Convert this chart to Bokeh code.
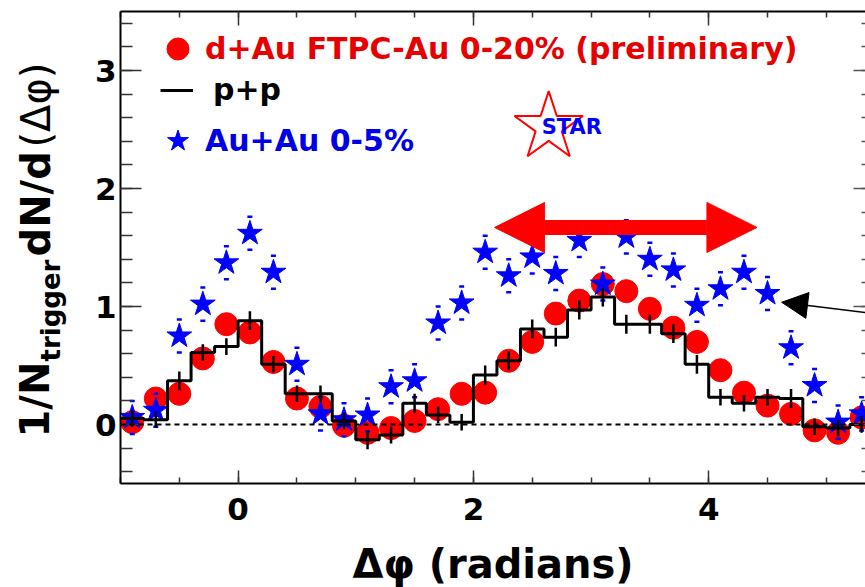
from bokeh.plotting import figure
from bokeh.layouts import row
from bokeh.models import (Range1d, LinearAxis, SingleIntervalTicker, Span, Label,
                          Legend, LegendItem, Arrow, NormalHead, ColumnDataSource)
from bokeh.embed import file_html
from bokeh.resources import INLINE
import numpy as np

# ---------------- data ----------------
dphi = [-0.9, -0.7, -0.5, -0.3, -0.1, 0.1, 0.3, 0.5, 0.7, 0.9, 1.1, 1.3, 1.5, 1.7, 1.9, 2.1,
        2.3, 2.5, 2.7, 2.9, 3.1, 3.3, 3.5, 3.7, 3.9, 4.1, 4.3, 4.5, 4.7, 4.9, 5.1, 5.3]

dau_ftpc = [0.02, 0.22, 0.26, 0.56, 0.85, 0.78, 0.53, 0.22, 0.15, -0.01, -0.07, -0.03,
            0.03, 0.13, 0.26, 0.27, 0.54, 0.70, 0.94, 1.05, 1.19, 1.13, 0.98, 0.82,
            0.70, 0.46, 0.27, 0.16, 0.09, -0.05, -0.07, 0.06]

pp = [0.05, 0.04, 0.37, 0.61, 0.66, 0.88, 0.51, 0.26, 0.26, 0.03, -0.13, -0.09,
      0.18, 0.08, 0.02, 0.42, 0.54, 0.81, 0.74, 0.97, 1.08, 0.85, 0.85, 0.77,
      0.51, 0.23, 0.18, 0.23, 0.22, -0.02, -0.03, 0.00]
pp_err = [0.07, 0.07, 0.08, 0.07, 0.07, 0.08, 0.07, 0.07, 0.07, 0.07, 0.08, 0.07,
          0.08, 0.07, 0.07, 0.08, 0.08, 0.08, 0.08, 0.08, 0.08, 0.08, 0.08, 0.08,
          0.08, 0.07, 0.07, 0.07, 0.08, 0.07, 0.07, 0.07]

auau = [0.06, 0.12, 0.75, 1.02, 1.37, 1.62, 1.29, 0.51, 0.09, 0.04, 0.08, 0.32,
        0.37, 0.86, 1.03, 1.46, 1.26, 1.42, 1.28, 1.56, 1.19, 1.59, 1.40, 1.31,
        1.01, 1.15, 1.29, 1.11, 0.65, 0.33, 0.02, 0.09]
auau_err = [0.14, 0.14, 0.14, 0.14, 0.14, 0.14, 0.14, 0.14, 0.14, 0.14, 0.14, 0.14,
            0.14, 0.14, 0.14, 0.14, 0.14, 0.14, 0.14, 0.14, 0.14, 0.14, 0.14, 0.14,
            0.14, 0.14, 0.14, 0.14, 0.14, 0.14, 0.14, 0.14]

legend_labels = ["d+Au FTPC-Au 0-20% (preliminary)", "p+p", "Au+Au 0-5%"]
x_title = "\u0394\u03c6 (radians)"
y_title_parts = ["1/N", "trigger", "dN/d", "(\u0394\u03c6)"]

# ---------------- derived columns ----------------
x = np.array(dphi)
half = np.diff(x).mean() / 2.0
src = ColumnDataSource(dict(
    x=x, dau=dau_ftpc, pp=pp,
    pp_lo=np.array(pp) - np.array(pp_err), pp_hi=np.array(pp) + np.array(pp_err),
    au=auau,
    au_lo=np.array(auau) - np.array(auau_err), au_hi=np.array(auau) + np.array(auau_err),
))
edges = list(x - half) + [x[-1] + half]
step_y = list(pp) + [pp[-1]]

FONT = "DejaVu Sans"
LEFT_W = 75
TOP_B, FRAME_H, BOT_B = 11, 472, 104

p = figure(frame_width=745, frame_height=FRAME_H,
           x_range=Range1d(-1.0, 5.333), y_range=Range1d(-0.5, 3.5),
           output_backend="svg", toolbar_location=None,
           min_border_left=120 - LEFT_W, min_border_right=0, min_border_top=TOP_B,
           min_border_bottom=BOT_B)
p.xgrid.visible = False
p.ygrid.visible = False
p.outline_line_color = None
p.background_fill_color = "white"
p.border_fill_color = "white"

# bottom axis
xa = p.xaxis[0]
xa.ticker = SingleIntervalTicker(interval=2, num_minor_ticks=4)
xa.major_tick_in = 13
xa.major_tick_out = 0
xa.minor_tick_in = 6
xa.minor_tick_out = 0
xa.axis_line_width = 2
xa.major_tick_line_width = 1.5
xa.minor_tick_line_width = 1.5
xa.major_tick_line_color = "#333333"
xa.minor_tick_line_color = "#333333"
xa.major_label_text_font = FONT
xa.major_label_text_font_size = "31px"
xa.major_label_text_font_style = "bold"
xa.major_label_text_color = "black"
xa.major_label_text_line_height = 0.8
xa.major_label_standoff = 14
xa.axis_label = x_title
xa.axis_label_text_font = FONT
xa.axis_label_text_font_size = "40px"
xa.axis_label_text_font_style = "bold"
xa.axis_label_text_color = "black"
xa.axis_label_text_line_height = 0.8
xa.axis_label_standoff = 18

# left axis
ya = p.yaxis[0]
ya.ticker = SingleIntervalTicker(interval=1, num_minor_ticks=5)
ya.major_tick_in = 21
ya.major_tick_out = 0
ya.minor_tick_in = 12
ya.minor_tick_out = 0
ya.axis_line_width = 2
ya.major_tick_line_width = 1.5
ya.minor_tick_line_width = 1.5
ya.major_tick_line_color = "#333333"
ya.minor_tick_line_color = "#333333"
ya.major_label_text_font = FONT
ya.major_label_text_font_size = "31px"
ya.major_label_text_font_style = "bold"
ya.major_label_text_color = "black"
ya.major_label_standoff = 4

# top axis (frame line + ticks only, no labels)
top = LinearAxis(ticker=SingleIntervalTicker(interval=2, num_minor_ticks=4),
                 major_tick_in=14, major_tick_out=0, minor_tick_in=6, minor_tick_out=0,
                 axis_line_width=2, major_tick_line_width=1.5, minor_tick_line_width=1.5,
                 major_tick_line_color="#333333", minor_tick_line_color="#333333",
                 major_label_text_font_size="0px", major_label_text_color=None,
                 major_label_standoff=0)
p.add_layout(top, "above")

# right edge ticks (no labels)
right = LinearAxis(ticker=SingleIntervalTicker(interval=1, num_minor_ticks=5),
                   axis_line_color=None, major_tick_in=12, major_tick_out=0,
                   minor_tick_in=4, minor_tick_out=0,
                   major_tick_line_width=1.5, minor_tick_line_width=1.5,
                   major_tick_line_color="#555555", minor_tick_line_color="#555555",
                   major_label_text_font_size="0px", major_label_text_color=None,
                   major_label_standoff=0)
p.add_layout(right, "right")

# zero line
p.add_layout(Span(location=0, dimension="width", line_color="black",
                  line_width=2, line_dash="5 4"))

# data
r_red = p.scatter("x", "dau", source=src, marker="circle", size=23,
                  fill_color="#ff0000", line_color="#ff0000")
r_blue = p.scatter("x", "au", source=src, marker="star", size=26,
                   fill_color="#0000ff", line_color="#0000ff")
p.scatter("x", "au_hi", source=src, marker="dash", size=5, line_color="#0000ff", line_width=2.5)
p.scatter("x", "au_lo", source=src, marker="dash", size=5, line_color="#0000ff", line_width=2.5)
r_pp = p.step(edges, step_y, mode="after", line_color="black", line_width=3)
p.segment(x0="x", y0="pp_lo", x1="x", y1="pp_hi", source=src, line_color="black", line_width=2.5)

# legends
def mk_legend(label, rend, loc, gw, gh, standoff, color):
    return Legend(items=[LegendItem(label=label, renderers=[rend])], location=loc,
                  glyph_width=gw, glyph_height=gh, label_standoff=standoff,
                  padding=0, margin=0, spacing=0, border_line_color=None,
                  background_fill_alpha=0, label_text_font=FONT,
                  label_text_font_size="30px", label_text_font_style="bold",
                  label_text_color=color)

p.add_layout(mk_legend(legend_labels[0], r_red, (30, 407), 55, 55, 0, "#e60000"))
p.add_layout(mk_legend(legend_labels[1], r_pp, (40, 376), 33, 30, 20, "black"))
p.add_layout(mk_legend(legend_labels[2], r_blue, (30, 315), 55, 55, 0, "#0000e6"))

# STAR logo
p.scatter([2.64], [2.52], marker="star", size=72, fill_color=None,
          line_color="#ff0000", line_width=2)
p.add_layout(Label(x=2.58, y=2.52, text="STAR", text_font=FONT, text_font_style="bold",
                   text_font_size="21px", text_color="#0000ff", text_baseline="middle",
                   text_align="left"))

# arrows
p.add_layout(Arrow(x_start=2.18, y_start=1.67, x_end=4.41, y_end=1.67,
                   line_color="#ff0000", line_width=15,
                   start=NormalHead(size=50, fill_color="#ff0000", line_color="#ff0000"),
                   end=NormalHead(size=50, fill_color="#ff0000", line_color="#ff0000")))
p.add_layout(Arrow(x_start=5.4, y_start=0.94, x_end=4.62, y_end=1.036,
                   line_color="black", line_width=1.5,
                   end=NormalHead(size=26, fill_color="black", line_color="black")))

# ---------------- y-axis title panel (rotated text with subscript) ----------------
# its frame is aligned with the main frame; ranges map 1:1 to page pixels
q = figure(frame_width=LEFT_W, frame_height=FRAME_H,
           x_range=Range1d(0, LEFT_W), y_range=Range1d(TOP_B + FRAME_H, TOP_B),
           output_backend="svg", toolbar_location=None, x_axis_type=None, y_axis_type=None,
           min_border_left=0, min_border_right=0, min_border_top=TOP_B,
           min_border_bottom=BOT_B)
q.xgrid.visible = False
q.ygrid.visible = False
q.outline_line_color = None
q.background_fill_color = "white"
q.border_fill_color = "white"

def ylab(text, xs, ys, size, style):
    q.add_layout(Label(x=xs, y=ys, text=text, angle=90, angle_units="deg",
                       text_font=FONT, text_font_size=size, text_font_style=style,
                       text_color="black", text_align="left", text_baseline="alphabetic"))

ylab(y_title_parts[0], 34, 437, "40px", "bold")
ylab(y_title_parts[1], 50, 361, "26px", "bold")
ylab(y_title_parts[2], 35, 256, "40px", "bold")
ylab(y_title_parts[3], 35, 147, "40px", "normal")

layout = row(q, p, spacing=0)
open("out.html", "w").write(file_html(layout, INLINE, title="dphi correlations"))
